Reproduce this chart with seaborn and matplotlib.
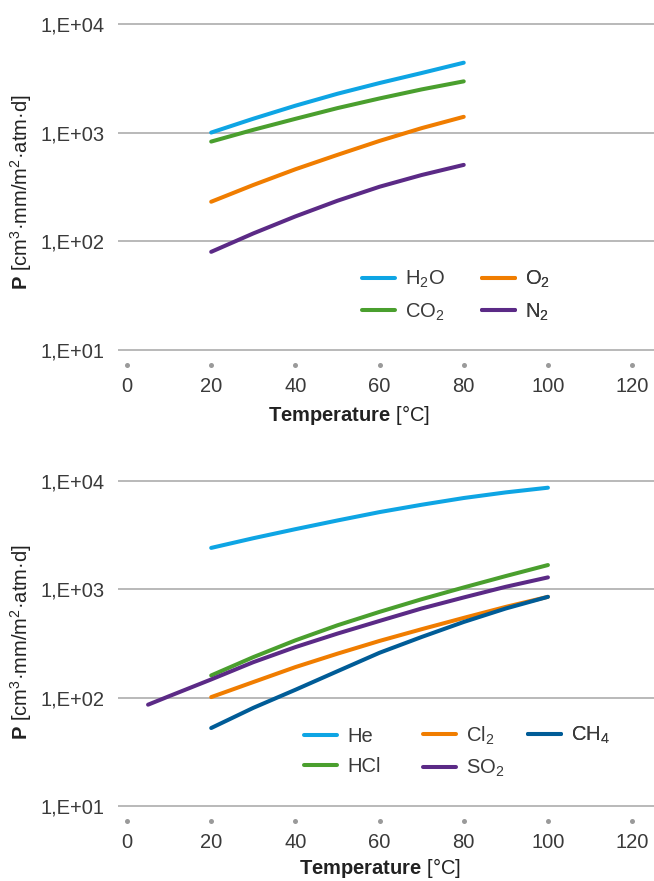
import matplotlib
matplotlib.use("Agg")
import matplotlib.pyplot as plt
import numpy as np
import pandas as pd
import seaborn as sns
from matplotlib.lines import Line2D
from matplotlib.ticker import NullLocator, FixedLocator, FixedFormatter

# ---------------- data ----------------
temps_top = [20, 30, 40, 50, 60, 70, 80]
h2o = [1006, 1349, 1778, 2291, 2876, 3556, 4426]
co2 = [831, 1066, 1346, 1690, 2074, 2512, 2980]
o2 = [232, 331, 462, 627, 843, 1105, 1405]
n2 = [80.2, 118.5, 170, 237, 319, 409, 507]

temps_bottom = [20, 30, 40, 50, 60, 70, 80, 90, 100]
he = [2399, 2946, 3570, 4295, 5130, 5995, 6918, 7795, 8610]
hcl = [160, 236, 337, 464, 617, 807, 1036, 1320, 1667]
cl2 = [101, 139, 191, 254, 333, 427, 543, 686, 849]
ch4 = [52.4, 80.4, 118, 175, 259, 362, 498, 663, 849]
temps_so2 = [5, 10, 20, 30, 40, 50, 60, 70, 80, 90, 100]
so2 = [86, 103, 147, 212, 292, 389, 509, 663, 838, 1051, 1283]

x_ticks = [0, 20, 40, 60, 80, 100, 120]
y_ticks = [10, 100, 1000, 10000]
y_tick_labels = ["1,E+01", "1,E+02", "1,E+03", "1,E+04"]

top_names = ["H$_2$O", "CO$_2$", "O$_2$", "N$_2$"]
bottom_names = ["He", "HCl", "Cl$_2$", "SO$_2$", "CH$_4$"]

C_BLUE = "#0EA5E4"
C_GREEN = "#4A9F2E"
C_ORANGE = "#F07D00"
C_PURPLE = "#5B2A86"
C_DARK = "#005C97"

# ---------------- style ----------------
sns.set_style("white")
plt.rcParams["font.family"] = ["Liberation Sans", "DejaVu Sans"]
plt.rcParams["mathtext.fontset"] = "custom"
plt.rcParams["mathtext.rm"] = "Liberation Sans"
plt.rcParams["mathtext.it"] = "Liberation Sans:italic"
plt.rcParams["mathtext.bf"] = "Liberation Sans:bold"

W, H = 654, 881
fig = plt.figure(figsize=(W / 100, H / 100), dpi=100)

FS = 14.5
TXT = "#3a3a3a"
GRID = "#a6a6a6"


def make_df(temps_list, values_list, names):
    rows = []
    for t, v, n in zip(temps_list, values_list, names):
        for ti, vi in zip(t, v):
            rows.append({"T": ti, "P": vi, "gas": n})
    return pd.DataFrame(rows)


def style_axes(ax):
    ax.set_yscale("log")
    ax.set_xlim(-2.14, 125.2)
    ax.set_ylim(7.28, 10 ** 4.018)
    ax.yaxis.set_major_locator(FixedLocator(y_ticks))
    ax.yaxis.set_major_formatter(FixedFormatter(y_tick_labels))
    ax.yaxis.set_minor_locator(NullLocator())
    ax.set_xticks(x_ticks)
    ax.set_xticklabels([str(t) for t in x_ticks])
    ax.tick_params(axis="both", length=0, labelsize=FS, labelcolor=TXT)
    ax.tick_params(axis="y", pad=9.4)
    ax.tick_params(axis="x", pad=8.5)
    for s in ax.spines.values():
        s.set_visible(False)
    ax.grid(False)
    ax.yaxis.grid(True, color=GRID, linewidth=1.1)
    ax.set_axisbelow(True)
    ax.set_xlabel("")
    ax.set_ylabel("")
    ax.scatter(x_ticks, [0] * len(x_ticks), transform=ax.get_xaxis_transform(),
               clip_on=False, s=13, color="#9a9a9a", linewidths=0, zorder=3)


def col_legend(ax, colors, labels, x_px, y_px, loc):
    handles = [Line2D([], [], color=c, lw=2.9) for c in colors]
    leg = ax.legend(handles, labels, loc=loc,
                    bbox_to_anchor=(x_px / W, 1 - y_px / H),
                    bbox_transform=fig.transFigure, frameon=False,
                    borderpad=0, borderaxespad=0, handlelength=1.65,
                    handletextpad=0.5, labelspacing=0.55, fontsize=FS)
    for t in leg.get_texts():
        t.set_color(TXT)
    ax.add_artist(leg)


# ---------------- top chart ----------------
ax1 = fig.add_axes([118 / W, 1 - 365 / H, 536 / W, (365 - 22.3) / H])
df_top = make_df([temps_top] * 4, [h2o, co2, o2, n2], top_names)
sns.lineplot(data=df_top, x="T", y="P", hue="gas", hue_order=top_names,
             palette=[C_BLUE, C_GREEN, C_ORANGE, C_PURPLE], linewidth=2.9,
             legend=False, ax=ax1)
style_axes(ax1)
col_legend(ax1, [C_BLUE, C_GREEN], top_names[:2], 362, 296, "center left")
col_legend(ax1, [C_ORANGE, C_PURPLE], top_names[2:], 482, 296, "center left")

# ---------------- bottom chart ----------------
ax2 = fig.add_axes([118 / W, 1 - 821 / H, 536 / W, (821 - 478.7) / H])
df_bot = make_df([temps_bottom, temps_bottom, temps_bottom, temps_so2, temps_bottom],
                 [he, hcl, cl2, so2, ch4], bottom_names)
sns.lineplot(data=df_bot, x="T", y="P", hue="gas", hue_order=bottom_names,
             palette=[C_BLUE, C_GREEN, C_ORANGE, C_PURPLE, C_DARK], linewidth=2.9,
             legend=False, ax=ax2)
style_axes(ax2)
col_legend(ax2, [C_BLUE, C_GREEN], bottom_names[:2], 304, 751.7, "center left")
col_legend(ax2, [C_ORANGE, C_PURPLE], bottom_names[2:4], 423, 751.7, "center left")
col_legend(ax2, [C_DARK], bottom_names[4:], 528, 735.7, "center left")

# ---------------- axis titles ----------------
ylab = r"$\mathbf{P}$ [cm$^3$·mm/m$^2$·atm·d]"
xlab = r"$\mathbf{Temperature}$ [°C]"
fig.text(21 / W, 1 - 192.5 / H, ylab, rotation=90, ha="center", va="center",
         fontsize=FS, color="#222222")
fig.text(21 / W, 1 - 642.5 / H, ylab, rotation=90, ha="center", va="center",
         fontsize=FS, color="#222222")
fig.text(348.5 / W, 1 - 415 / H, xlab, ha="center", va="center",
         fontsize=FS, color="#222222")
fig.text(379.5 / W, 1 - 868 / H, xlab, ha="center", va="center",
         fontsize=FS, color="#222222")

fig.savefig("out.png", dpi=100)
